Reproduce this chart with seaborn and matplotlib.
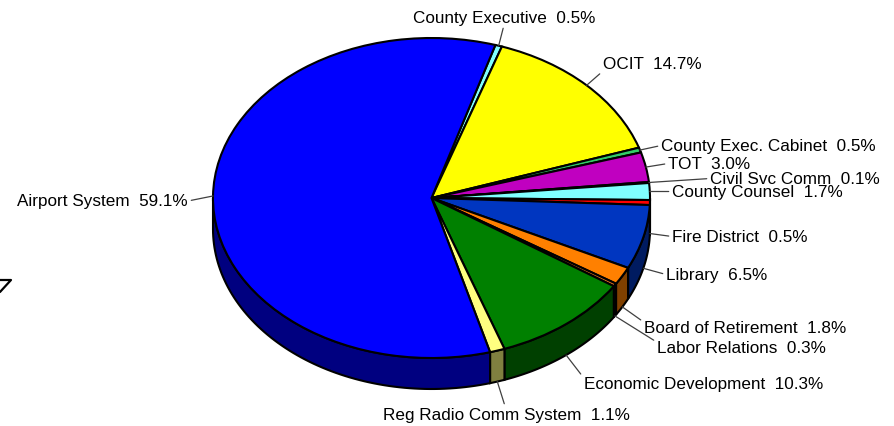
import numpy as np
import matplotlib
matplotlib.use("Agg")
import matplotlib.pyplot as plt
from matplotlib.patches import Polygon
from matplotlib.lines import Line2D
import seaborn as sns

# Budget share by department (percent)
departments = [
    "County Executive", "OCIT", "County Exec. Cabinet", "TOT", "Civil Svc Comm",
    "County Counsel", "Fire District", "Library", "Board of Retirement",
    "Labor Relations", "Economic Development", "Reg Radio Comm System", "Airport System",
]
shares = [0.5, 14.7, 0.5, 3.0, 0.1, 1.7, 0.5, 6.5, 1.8, 0.3, 10.3, 1.1, 59.1]
share_labels = ["0.5%", "14.7%", "0.5%", "3.0%", "0.1%", "1.7%", "0.5%", "6.5%",
                "1.8%", "0.3%", "10.3%", "1.1%", "59.1%"]

top_colors = [
    "#80FFFF", "#FFFF00", "#33CC66", "#C000C0", "#333399", "#80FFFF", "#FF0000",
    "#0036C0", "#FF8000", "#E07020", "#008000", "#FFFF80", "#0000FF",
]

sns.set_theme(style="white")
plt.rcParams["font.family"] = ["Liberation Sans", "DejaVu Sans"]

W, H = 895, 427
CX, CY = 431.5, 199.0      # pie centre in pixels (from top-left)
RX, RY = 218.5, 160.0      # ellipse radii in pixels
DEPTH = 31.0 / RY          # rim thickness in data units

fig = plt.figure(figsize=(W / 100, H / 100), dpi=100)
ax = fig.add_axes([0, 0, 1, 1])

wedges, _ = ax.pie(
    shares, colors=top_colors, startangle=73, counterclock=False, normalize=True,
    wedgeprops=dict(edgecolor="black", linewidth=1.5, zorder=2),
)
ax.set_aspect("auto")
ax.set_xlim(-CX / RX, (W - CX) / RX)
ax.set_ylim((CY - H) / RY, CY / RY)
ax.axis("off")


def darker(c, f=0.5):
    r, g, b = matplotlib.colors.to_rgb(c)
    return (r * f, g * f, b * f)


# Outer rim of the front half gives the pie its thickness
for w, col in zip(wedges, top_colors):
    a, b = w.theta1, w.theta2
    for k in range(-2, 2):
        lo = max(a, 180 + 360 * k)
        hi = min(b, 360 + 360 * k)
        if hi - lo <= 0:
            continue
        t = np.radians(np.linspace(lo, hi, 80))
        top = np.column_stack([np.cos(t), np.sin(t)])
        bot = np.column_stack([np.cos(t), np.sin(t) - DEPTH])[::-1]
        ax.add_patch(Polygon(np.vstack([top, bot]), closed=True,
                             facecolor=darker(col), edgecolor="black",
                             linewidth=1.5, zorder=1))

# Label layout: text position in pixels (from top-left), alignment, leader attach point
label_layout = {
    "County Executive": (504, 18.5, "center", (0.5, 0.0)),
    "OCIT": (603, 64.5, "left", (0.0, 0.0)),
    "County Exec. Cabinet": (661, 146.5, "left", (0.0, 0.5)),
    "TOT": (668, 164.5, "left", (0.0, 0.5)),
    "Civil Svc Comm": (710, 179.5, "left", (0.0, 0.5)),
    "County Counsel": (672, 192.5, "left", (0.0, 0.5)),
    "Fire District": (672, 237.5, "left", (0.0, 0.5)),
    "Library": (666, 275.5, "left", (0.0, 0.5)),
    "Board of Retirement": (644, 328.5, "left", (0.0, 0.85)),
    "Labor Relations": (657, 348.5, "left", (0.0, 0.85)),
    "Economic Development": (584, 384.5, "left", (0.0, 0.85)),
    "Reg Radio Comm System": (506, 415.5, "center", (0.5, 0.85)),
    "Airport System": (188, 202, "right", (1.0, 0.5)),
}

for w, name, pct in zip(wedges, departments, share_labels):
    mid = np.radians((w.theta1 + w.theta2) / 2)
    x, y = np.cos(mid), np.sin(mid)
    if y < 0:
        y -= DEPTH
    px, py, ha, rel = label_layout[name]
    ax.annotate(
        f"{name}  {pct}", xy=(x, y), xytext=(px, H - py), textcoords="figure pixels",
        ha=ha, va="center", fontsize=12.3, color="black", zorder=5,
        arrowprops=dict(arrowstyle="-", color="#404040", lw=0.9,
                        shrinkA=0, shrinkB=0, relpos=rel),
    )

# Small stroke at the lower-left margin
fig.add_artist(Line2D([0, 11, 0], [H - 281, H - 281, H - 293],
                      transform=None, color="black", lw=1.6))

fig.savefig("out.png", dpi=100)
